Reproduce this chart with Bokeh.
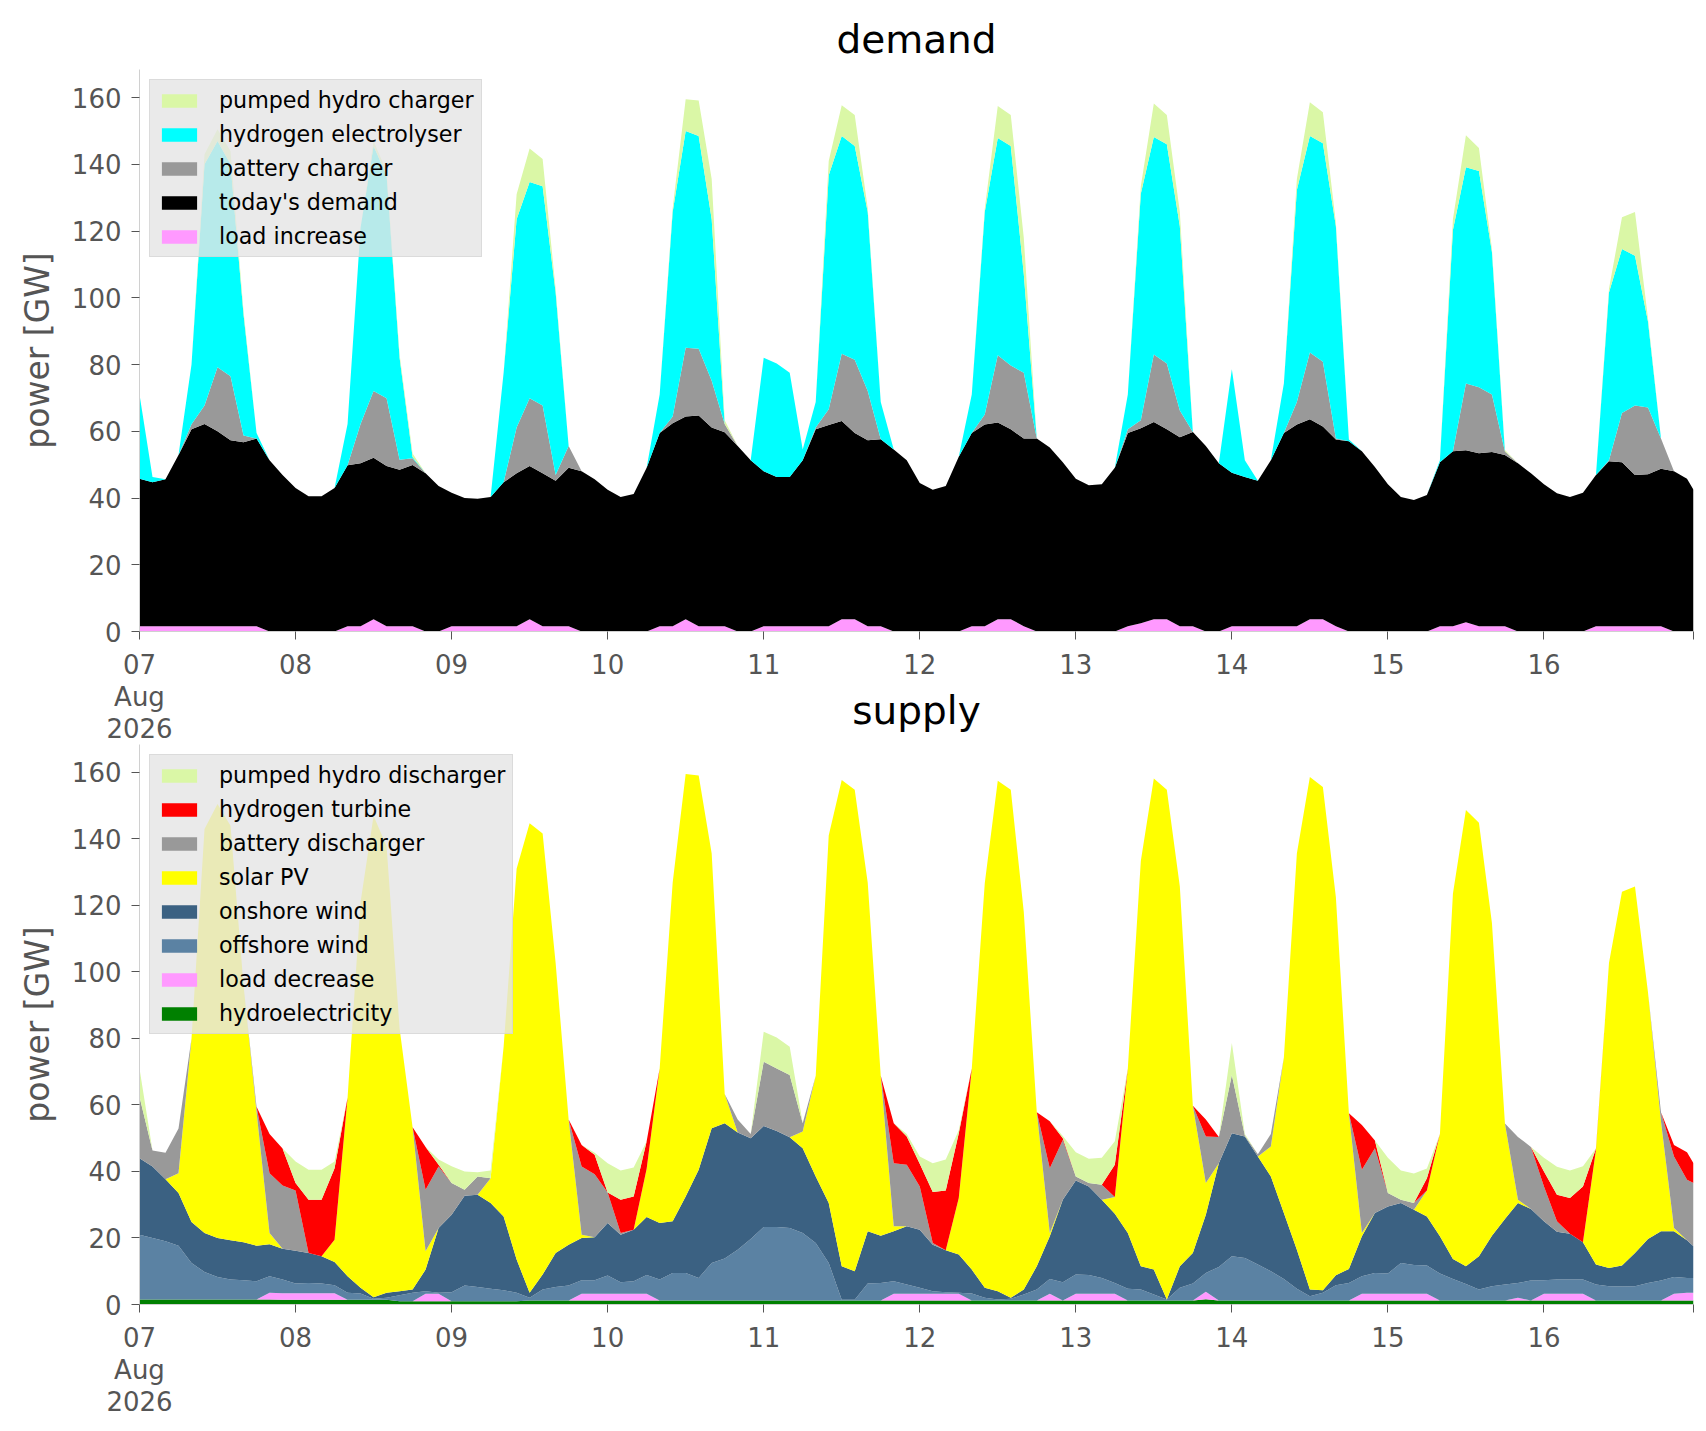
import pandas as pd
from bokeh.plotting import figure
from bokeh.models import (ColumnDataSource, Legend, LegendItem, FixedTicker, Range1d)
from bokeh.layouts import column
from bokeh.embed import file_html
from bokeh.resources import INLINE

# ---------------- data (2-hourly samples, GW) ----------------
hours = list(range(0, 240, 2)) + [239]
start = pd.Timestamp("2026-08-07 00:00")
times = [start + pd.Timedelta(hours=h) for h in hours]

# demand side
load_increase = [
    1.6, 1.6, 1.6, 1.6, 1.6, 1.6, 1.6, 1.6, 1.6, 1.6, 0, 0,
    0, 0, 0, 0, 1.6, 1.6, 3.7, 1.6, 1.6, 1.6, 0, 0,
    1.6, 1.6, 1.6, 1.6, 1.6, 1.6, 3.7, 1.6, 1.6, 1.6, 0, 0,
    0, 0, 0, 0, 1.6, 1.6, 3.7, 1.6, 1.6, 1.6, 0, 0,
    1.6, 1.6, 1.6, 1.6, 1.6, 1.6, 3.7, 3.7, 1.6, 1.6, 0, 0,
    0, 0, 0, 0, 1.6, 1.6, 3.7, 3.7, 1.6, 0, 0, 0,
    0, 0, 0, 0, 1.6, 2.5, 3.7, 3.7, 1.6, 1.6, 0, 0,
    1.6, 1.6, 1.6, 1.6, 1.6, 1.6, 3.7, 3.7, 1.6, 0, 0, 0,
    0, 0, 0, 0, 1.6, 1.6, 2.8, 1.6, 1.6, 1.6, 0, 0,
    0, 0, 0, 0, 1.6, 1.6, 1.6, 1.6, 1.6, 1.6, 0, 0,
    0]
todays_demand = [
    44.2, 43.1, 44.0, 51.3, 59.0, 60.6, 58.4, 55.7, 55.1, 56.2, 51.3, 46.9,
    43.0, 40.5, 40.5, 43.0, 48.2, 48.8, 48.4, 48.0, 46.9, 48.3, 47.4, 43.6,
    40.0, 38.4, 38.2, 38.7, 43.1, 45.8, 45.9, 45.8, 43.6, 47.5, 48.0, 45.6,
    42.5, 40.3, 41.2, 49.1, 57.9, 60.8, 60.7, 63.1, 59.5, 58.1, 55.6, 51.3,
    46.4, 44.7, 44.7, 49.7, 59.0, 60.3, 59.4, 55.8, 55.7, 56.0, 54.5, 51.3,
    44.5, 42.5, 43.6, 52.4, 57.9, 60.4, 58.9, 56.9, 56.2, 57.8, 55.1, 50.7,
    45.8, 43.8, 44.1, 49.1, 57.9, 58.4, 59.1, 56.9, 56.6, 58.2, 55.6, 50.4,
    46.0, 44.7, 43.6, 49.7, 57.9, 60.4, 59.9, 57.7, 55.9, 57.0, 54.0, 49.3,
    44.1, 40.3, 39.4, 40.9, 49.1, 52.4, 51.5, 51.8, 52.2, 51.3, 50.4, 47.4,
    44.1, 41.4, 40.3, 41.6, 45.3, 49.4, 49.1, 45.3, 45.5, 47.2, 48.0, 45.8,
    42.5]
battery_charger = [
    0, 0, 0, 0, 1.5, 5.5, 19.2, 19.2, 2.0, 0, 0, 0,
    0, 0, 0, 0, 0, 11.8, 20.0, 20.3, 3.0, 2.0, 0, 0,
    0, 0, 0, 0, 0, 13.7, 20.3, 20.3, 1.7, 6.5, 0, 0,
    0, 0, 0, 0, 0, 2.0, 20.6, 20.0, 14.0, 2.5, 0, 0,
    0, 0, 0, 0, 0.5, 4.7, 20.1, 21.9, 14.8, 0, 0, 0,
    0, 0, 0, 0, 0, 3.0, 20.2, 19.1, 19.7, 0, 0, 0,
    0, 0, 0, 0, 1.1, 2.4, 20.2, 19.7, 8.0, 0, 0, 0,
    0, 0, 0, 0, 0, 6.8, 20.0, 19.4, 0.3, 0, 0, 0,
    0, 0, 0, 0, 0, 0, 20.0, 19.8, 17.2, 1.0, 0, 0,
    0, 0, 0, 0, 0, 0.3, 14.8, 20.8, 20.0, 9.0, 0, 0,
    0]
hydrogen_electrolyser = [
    25.2, 1.6, 0, 0, 17.9, 72.3, 67.8, 63.5, 36.3, 1.7, 0, 0,
    0, 0, 0, 0, 12.4, 58.8, 73.4, 66.8, 30.5, 0.4, 0, 0,
    0, 0, 0, 0, 32.8, 62.4, 64.8, 65.7, 54.7, 0, 0, 0,
    0, 0, 0, 0, 11.5, 61.3, 65.0, 63.8, 48.4, 0, 0, 0,
    34.0, 34.0, 31.2, 3.2, 7.7, 70.1, 65.3, 64.1, 53.6, 11.2, 0, 0,
    0, 0, 0, 0, 11.5, 60.7, 65.1, 65.8, 29.6, 0, 0, 0,
    0, 0, 0, 0, 10.4, 67.9, 65.2, 65.7, 55.2, 0, 0, 0,
    31.0, 5.0, 0, 0, 14.8, 63.5, 64.9, 65.5, 63.6, 0.5, 0, 0,
    0, 0, 0, 0, 0.6, 66.3, 64.8, 64.8, 42.7, 0, 0, 0,
    0, 0, 0, 0, 0, 50.3, 49.1, 44.9, 25.8, 0, 0, 0,
    0]
pumped_hydro_charger = [
    0, 0, 0, 0, 0, 3.0, 3.5, 4.0, 1.0, 0, 0, 0,
    0, 0, 0, 0, 0, 0, 1.5, 1.1, 1.0, 1.0, 0, 0,
    0, 0, 0, 0, 0, 7.5, 10.0, 8.2, 1.1, 0, 0, 0,
    0, 0, 0, 0, 0, 1.1, 9.5, 10.6, 12.1, 1.1, 0, 0,
    0, 0, 0, 0, 0, 4.3, 9.2, 9.3, 1.1, 0, 0, 0,
    0, 0, 0, 0, 0, 1.0, 9.6, 9.3, 10.9, 0, 0, 0,
    0, 0, 0, 0, 0, 2.2, 10.0, 8.8, 4.3, 0, 0, 0,
    0, 0, 0, 0, 0, 3.3, 10.1, 9.3, 1.1, 0, 0, 0,
    0, 0, 0, 0, 0, 3.2, 9.6, 6.9, 1.0, 0.5, 0, 0,
    0, 0, 0, 0, 0, 1.1, 9.5, 13.1, 1.0, 0, 0, 0,
    0]

# supply side
hydroelectricity = [
    1.5, 1.5, 1.5, 1.5, 1.5, 1.5, 1.5, 1.5, 1.5, 1.5, 1.5, 1.4,
    1.4, 1.4, 1.4, 1.4, 1.4, 1.4, 1.4, 1.4, 1.0, 1.0, 1.0, 1.0,
    1.0, 1.0, 1.0, 1.0, 1.0, 1.0, 1.2, 1.2, 1.2, 1.2, 1.2, 1.2,
    1.2, 1.2, 1.2, 1.2, 1.2, 1.2, 1.2, 1.2, 1.2, 1.2, 1.2, 1.2,
    1.2, 1.2, 1.2, 1.2, 1.2, 1.2, 1.2, 1.2, 1.2, 1.2, 1.2, 1.2,
    1.2, 1.2, 1.2, 1.2, 1.2, 1.2, 1.2, 1.2, 1.2, 1.2, 1.2, 1.2,
    1.2, 1.2, 1.2, 1.2, 1.2, 1.2, 1.2, 1.2, 1.2, 1.2, 1.6, 1.2,
    1.2, 1.2, 1.2, 1.2, 1.2, 1.2, 1.2, 1.2, 1.2, 1.2, 1.2, 1.2,
    1.2, 1.2, 1.2, 1.2, 1.2, 1.2, 1.2, 1.2, 1.2, 1.2, 1.2, 1.2,
    1.2, 1.2, 1.2, 1.2, 1.2, 1.2, 1.2, 1.2, 1.2, 1.2, 1.2, 1.2,
    1.2]
load_decrease = [
    0, 0, 0, 0, 0, 0, 0, 0, 0, 0, 2.0, 2.0,
    2.0, 2.0, 2.0, 2.0, 0, 0, 0, 0, 0, 0, 2.2, 2.2,
    0, 0, 0, 0, 0, 0, 0, 0, 0, 0, 2.0, 2.0,
    2.0, 2.0, 2.0, 2.0, 0, 0, 0, 0, 0, 0, 0, 0,
    0, 0, 0, 0, 0, 0, 0, 0, 0, 0, 2.0, 2.0,
    2.0, 2.0, 2.0, 2.0, 0, 0, 0, 0, 0, 0, 2.0, 0,
    2.0, 2.0, 2.0, 2.0, 0, 0, 0, 0, 0, 0, 2.2, 0,
    0, 0, 0, 0, 0, 0, 0, 0, 0, 0, 2.0, 2.0,
    2.0, 2.0, 2.0, 2.0, 0, 0, 0, 0, 0, 0, 0.8, 0,
    2.0, 2.0, 2.0, 2.0, 0, 0, 0, 0, 0, 0, 2.0, 2.3,
    2.3]
offshore_wind = [
    19.5, 18.5, 17.5, 16.2, 11.0, 8.3, 6.8, 6.0, 5.8, 5.5, 5.0, 4.1,
    2.9, 3.1, 2.9, 2.4, 2.1, 1.9, 0.3, 0.6, 1.8, 2.5, 0.8, 0.3,
    2.7, 4.7, 4.3, 3.7, 3.3, 2.5, 0.8, 3.3, 4.1, 4.5, 4.1, 4.1,
    5.5, 3.5, 3.8, 5.7, 6.3, 8.3, 8.3, 6.8, 11.3, 12.6, 15.3, 18.5,
    22.1, 22.1, 21.8, 20.3, 17.3, 11.3, 0.2, 0.2, 5.1, 5.3, 3.8, 2.8,
    1.8, 0.8, 0.5, 0.3, 2.1, 0.8, 0.3, 0.5, 1.8, 3.3, 4.5, 5.5,
    5.8, 5.7, 4.8, 3.3, 3.5, 3.3, 1.8, 0.3, 3.8, 5.1, 5.7, 10.1,
    13.3, 12.8, 10.8, 8.8, 6.5, 3.5, 1.3, 2.3, 4.6, 5.3, 5.3, 6.3,
    6.1, 9.3, 8.7, 8.5, 8.1, 6.5, 5.0, 3.3, 4.3, 4.8, 4.5, 6.0,
    4.1, 4.3, 4.3, 4.3, 4.8, 4.3, 4.2, 4.3, 5.3, 6.0, 5.1, 4.5,
    4.5]
onshore_wind = [
    23.0, 21.5, 18.7, 15.8, 12.3, 11.7, 11.7, 11.8, 11.4, 10.7, 9.6, 9.3,
    9.9, 9.0, 8.2, 7.0, 5.0, 1.7, 0.5, 1.5, 1.2, 1.0, 6.5, 19.5,
    23.3, 27.0, 27.7, 25.8, 22.2, 10.0, 1.5, 4.5, 10.2, 12.3, 12.7, 12.9,
    15.8, 14.3, 15.5, 17.4, 17.0, 15.5, 23.0, 32.5, 40.5, 40.7, 35.2, 30.3,
    30.4, 28.9, 27.3, 25.5, 20.0, 18.0, 10.1, 8.6, 15.7, 14.2, 15.0, 17.5,
    17.5, 14.0, 12.6, 11.5, 7.2, 3.0, 2.5, 0.3, 1.5, 7.0, 12.8, 24.8,
    28.3, 26.6, 23.5, 20.8, 16.8, 7.0, 7.5, 0.0, 6.5, 9.2, 17.5, 31.2,
    37.0, 36.5, 32.5, 28.5, 19.8, 11.8, 2.0, 0.8, 3.0, 4.2, 12.0, 18.0,
    20.2, 18.0, 16.6, 14.8, 11.2, 6.0, 5.3, 10.0, 15.2, 19.7, 24.0, 21.5,
    17.7, 14.4, 13.8, 11.2, 6.0, 5.5, 6.3, 10.0, 13.2, 14.8, 13.7, 11.3,
    9.5]
solar_pv = [
    0, 0, 0, 6.0, 55.2, 121.5, 130.5, 124.7, 77.3, 40.3, 3.4, 0,
    0, 0, 0, 6.7, 53.7, 116.0, 144.8, 134.3, 79.0, 48.8, 5.5, 0,
    0, 0, 0, 7.5, 51.0, 117.5, 141.2, 132.6, 87.2, 37.6, 1.0, 0,
    0, 0, 0, 14.5, 46.5, 101.8, 127.0, 118.6, 82.6, 8.8, 0, 0,
    0, 0, 0, 5.0, 30.3, 110.5, 146.2, 144.8, 104.8, 48.1, 1.5, 0,
    0, 0, 0, 17.0, 60.5, 121.7, 153.5, 152.8, 113.5, 46.3, 1.0, 0,
    0, 0, 0, 5.0, 49.5, 121.9, 147.7, 153.3, 114.2, 44.3, 9.5, 0,
    0, 0, 0, 9.0, 46.8, 119.1, 154.1, 151.3, 113.7, 46.8, 1.0, 0,
    0, 0, 0, 7.8, 30.8, 109.8, 137.2, 130.4, 94.0, 28.7, 1.0, 0,
    0, 0, 0, 0, 34.5, 91.7, 112.4, 110.2, 74.2, 33.0, 1.0, 0,
    0]
battery_discharger = [
    18.5, 4.8, 7.9, 13.4, 0, 0, 0, 0, 0, 1.5, 18.0, 19.0,
    18.1, 0, 0, 0, 0, 0, 0, 0, 0, 0, 18.5, 18.5,
    9.5, 1.8, 5.5, 0, 0, 0, 0, 0, 0, 0, 20.5, 19.0,
    9.2, 0.5, 0, 0, 0, 0, 0, 0, 0, 0, 3.9, 1.3,
    19.3, 18.8, 18.7, 2.5, 0, 0, 0, 0, 0, 0, 19.0, 18.5,
    13.0, 0.5, 0, 0, 0, 0, 0, 0, 0, 0, 19.5, 18.0,
    1.2, 1.0, 4.5, 0, 0, 0, 0, 0, 0, 0, 14.0, 7.9,
    17.5, 0.3, 0.7, 3.8, 0, 0, 0, 0, 0, 0, 19.0, 19.5,
    4.0, 1.0, 2.0, 0, 0, 0, 0, 0, 0, 0, 18.9, 18.7,
    10.5, 3.1, 0, 0, 0, 0, 0, 0, 0, 2.8, 21.5, 18.2,
    19.0]
hydrogen_turbine = [
    0, 0, 0, 0, 0, 0, 0, 0, 0, 0, 11.8, 11.1,
    2.2, 16.0, 17.0, 21.5, 0, 0, 0, 0, 0, 0, 12.9, 0.5,
    0, 0, 0, 0, 0, 0, 0, 0, 0, 0, 6.5, 5.8,
    0, 10.0, 10.0, 8.3, 0, 0, 0, 0, 0, 0, 0, 0,
    0, 0, 0, 0, 0, 0, 0, 0, 0, 0, 12.0, 8.5,
    6.8, 15.3, 18.0, 19.5, 0, 0, 0, 0, 0, 0, 14.1, 0.5,
    0, 0, 0, 9.7, 0, 0, 0, 0, 0, 0, 5.1, 0,
    0, 0, 0, 0, 0, 0, 0, 0, 0, 0, 13.5, 2.3,
    0, 0, 0, 3.7, 0, 0, 0, 0, 0, 0, 0, 0,
    4.5, 8.0, 10.7, 16.8, 0.4, 0, 0, 0, 0, 0, 3.5, 8.3,
    6.0]
pumped_hydro_discharger = [
    8.5, 0, 0, 0, 0, 0, 0, 0, 0, 0, 0, 0,
    6.5, 9.0, 9.0, 2.0, 0, 0, 0, 0, 0, 0, 0, 1.6,
    5.1, 5.5, 1.3, 2.3, 0, 0, 0, 0, 0, 0, 0, 0.6,
    8.8, 8.8, 8.7, 0, 0, 0, 0, 0, 0, 0, 0, 0,
    9.0, 9.3, 8.5, 0, 0, 0, 0, 0, 0, 0, 0, 0.8,
    2.2, 8.7, 9.3, 0.9, 0, 0, 0, 0, 0, 0, 0, 0.7,
    7.3, 7.3, 8.1, 7.1, 0, 0, 0, 0, 0, 0, 0, 0,
    9.6, 0.5, 0, 0, 0, 0, 0, 0, 0, 0, 0, 0,
    10.6, 8.8, 8.9, 2.9, 0, 0, 0, 0, 0, 0, 0, 0,
    4.1, 8.4, 8.3, 6.1, 0, 0, 0, 0, 0, 0, 0, 0,
    0]

demand_names = ["load increase", "today's demand", "battery charger",
                "hydrogen electrolyser", "pumped hydro charger"]
demand_series = [load_increase, todays_demand, battery_charger,
                 hydrogen_electrolyser, pumped_hydro_charger]
demand_colors = ["#ff99ff", "#000000", "#999999", "#00ffff", "#daf7a6"]

supply_names = ["hydroelectricity", "load decrease", "offshore wind", "onshore wind",
                "solar PV", "battery discharger", "hydrogen turbine", "pumped hydro discharger"]
supply_series = [hydroelectricity, load_decrease, offshore_wind, onshore_wind,
                 solar_pv, battery_discharger, hydrogen_turbine, pumped_hydro_discharger]
supply_colors = ["#008000", "#ff99ff", "#5b82a3", "#3b6182",
                 "#ffff00", "#999999", "#ff0000", "#daf7a6"]

day_labels = ["07\nAug\n2026", "08", "09", "10", "11", "12", "13", "14", "15", "16"]

# ---------------- figures ----------------
FONT = "DejaVu Sans"
t0 = times[0]
t1 = times[-1]


def ms(t):
    return float(pd.Timestamp(t).value // 10**6)


day_ticks = [ms(start + pd.Timedelta(days=i)) for i in range(len(day_labels))]
all_ticks = day_ticks + [ms(t1)]
overrides = {k: v for k, v in zip(day_ticks, day_labels)}
overrides[ms(t1)] = ""


def make_fig(names, series, colors, height, min_top, title=None):
    data = {"t": times}
    keys = []
    for i, s in enumerate(series):
        k = "s%d" % i
        data[k] = s
        keys.append(k)
    src = ColumnDataSource(data)
    p = figure(width=1700, height=height, x_axis_type="datetime",
               output_backend="svg", toolbar_location=None,
               x_range=Range1d(t0, t1), y_range=Range1d(0, 168.4),
               min_border_left=139, min_border_right=7,
               min_border_top=min_top, min_border_bottom=113)
    rs = p.varea_stack(stackers=keys, x="t", color=colors, source=src)
    p.outline_line_color = None
    p.xgrid.visible = False
    p.ygrid.visible = False
    p.background_fill_color = "white"
    p.border_fill_color = "white"
    if title:
        p.title.text = title
        p.title.align = "center"
        p.title.text_font = FONT
        p.title.text_font_size = "39px"
        p.title.text_font_style = "normal"
        p.title.text_color = "#000000"
        p.title.standoff = 15
    for ax in (p.xaxis[0], p.yaxis[0]):
        ax.axis_line_color = "#d0d0d0"
        ax.major_tick_line_color = "#555555"
        ax.major_tick_out = 8
        ax.major_tick_in = 0
        ax.minor_tick_line_color = None
        ax.major_label_text_font = FONT
        ax.major_label_text_font_size = "26px"
        ax.major_label_text_color = "#555555"
        ax.major_label_standoff = 10
    p.xaxis.major_label_text_line_height = 1.07
    p.yaxis.ticker = FixedTicker(ticks=list(range(0, 161, 20)))
    p.yaxis.axis_label = "power [GW]"
    p.yaxis.axis_label_text_font = FONT
    p.yaxis.axis_label_text_font_size = "33px"
    p.yaxis.axis_label_text_font_style = "normal"
    p.yaxis.axis_label_text_color = "#555555"
    p.yaxis.axis_label_standoff = 12
    p.xaxis.ticker = FixedTicker(ticks=all_ticks)
    p.xaxis.major_label_overrides = overrides

    items = [LegendItem(label=n, renderers=[r]) for n, r in zip(names, rs)][::-1]
    leg = Legend(items=items, location="top_left")
    leg.margin = 10
    leg.padding = 7
    leg.spacing = 8
    leg.glyph_width = 44
    leg.glyph_height = 17
    leg.label_standoff = 18
    leg.label_text_font = FONT
    leg.label_text_font_size = "22.2px"
    leg.label_text_color = "#000000"
    leg.background_fill_color = "#e5e5e5"
    leg.background_fill_alpha = 0.8
    leg.border_line_color = "#cccccc"
    leg.border_line_width = 1
    p.add_layout(leg)
    return p


p1 = make_fig(demand_names, demand_series, demand_colors, 744, 69, title="demand")
# the lower panel's title sits in the band between the two panels: carried by the
# upper panel's x-axis label, pulled up beside the "Aug / 2026" tick-label lines
p1.xaxis.axis_label = "supply"
p1.xaxis.axis_label_text_font = FONT
p1.xaxis.axis_label_text_font_size = "39px"
p1.xaxis.axis_label_text_font_style = "normal"
p1.xaxis.axis_label_text_color = "#000000"
p1.xaxis.axis_label_standoff = -59
p2 = make_fig(supply_names, supply_series, supply_colors, 675, 0)

layout = column(p1, p2, spacing=0)
open("out.html", "w").write(file_html(layout, INLINE))
